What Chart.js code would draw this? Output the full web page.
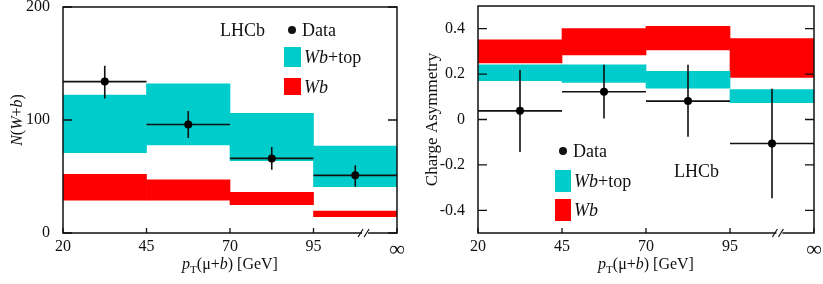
<!DOCTYPE html>
<html>
<head>
<meta charset="utf-8">
<script src="https://cdn.jsdelivr.net/npm/chart.js@4"></script>
<style>
body{margin:0;background:#fff;}
#wrap{display:flex;width:823px;height:284px;}
canvas{display:block;}
</style>
</head>
<body>
<div id="wrap">
<canvas id="yieldChart" width="410" height="284"></canvas>
<canvas id="asymChart" width="413" height="284"></canvas>
</div>
<script>
// bins in pT(mu+b): 20-45, 45-70, 70-95, 95-inf (drawn as equal width)
var xLabels = ['20', '45', '70', '95', '\u221e'];
var binLo = [0, 1, 2, 3];
var binHi = [1, 2, 3, 4];
var binMid = [0.5, 1.5, 2.5, 3.5];

// left panel: N(W+b)
var yieldTicks = [0, 100, 200];
var yieldData = [134, 96, 66, 51];
var yieldErrLo = [119, 84, 56, 41];
var yieldErrHi = [148, 108, 76, 60];
var yieldTopLo = [71, 78, 64, 41];
var yieldTopHi = [122, 132, 106, 77];
var yieldWbLo = [29, 29, 25, 14.5];
var yieldWbHi = [52, 47, 36, 19.5];

// right panel: charge asymmetry
var asymTicks = [-0.4, -0.2, 0, 0.2, 0.4];
var asymData = [0.038, 0.122, 0.081, -0.106];
var asymErrLo = [-0.143, 0.004, -0.076, -0.347];
var asymErrHi = [0.218, 0.241, 0.241, 0.135];
var asymTopLo = [0.171, 0.163, 0.138, 0.074];
var asymTopHi = [0.241, 0.241, 0.212, 0.132];
var asymWbLo = [0.249, 0.284, 0.306, 0.185];
var asymWbHi = [0.351, 0.400, 0.410, 0.356];

var CYAN = '#00cccc';
var RED = '#ff0000';
var SERIF = '"Liberation Serif", "DejaVu Serif", serif';

function bands(lo, hi) {
    return binMid.map(function (x, i) { return {x: x, y: [lo[i], hi[i]]}; });
}

// vertical error bars, null breaks the line between bins
function vErr(lo, hi) {
    var out = [];
    binMid.forEach(function (x, i) {
        out.push({x: x, y: lo[i]}, {x: x, y: hi[i]}, {x: x, y: null});
    });
    return out;
}

// horizontal bars span the whole bin
function hErr(vals) {
    var out = [];
    vals.forEach(function (v, i) {
        out.push({x: binLo[i], y: v}, {x: binHi[i], y: v}, {x: binHi[i], y: null});
    });
    return out;
}

function points(vals) {
    return binMid.map(function (x, i) { return {x: x, y: vals[i]}; });
}

// draws a run of text pieces with their own fonts: [text, font, dy]
function richText(ctx, parts, x, y, align) {
    var w = 0;
    parts.forEach(function (p) { ctx.font = p[1]; w += ctx.measureText(p[0]).width; });
    var cx = align === 'center' ? x - w / 2 : x;
    ctx.textAlign = 'left';
    ctx.textBaseline = 'alphabetic';
    parts.forEach(function (p) {
        ctx.font = p[1];
        ctx.fillText(p[0], cx, y + (p[2] || 0));
        cx += ctx.measureText(p[0]).width;
    });
}

function f(size, style) { return (style || '') + ' ' + size + 'px ' + SERIF; }

var xTitle = [['p', f(16, 'italic')], ['T', f(11), 4], ['(\u03bc+', f(16)], ['b', f(16, 'italic')], [') [GeV]', f(16)]];

var deco = {
    id: 'deco',
    afterDraw: function (chart, args, o) {
        var ctx = chart.ctx, a = chart.chartArea, xs = chart.scales.x, ys = chart.scales.y;
        ctx.save();
        ctx.strokeStyle = '#111';
        ctx.fillStyle = '#111';

        // inward ticks
        ctx.lineWidth = 1.3;
        ctx.beginPath();
        ys.ticks.forEach(function (t) {
            var py = ys.getPixelForValue(t.value);
            ctx.moveTo(a.left, py); ctx.lineTo(a.left + 9, py);
            ctx.moveTo(a.right, py); ctx.lineTo(a.right - 9, py);
        });
        xs.ticks.forEach(function (t) {
            var px = xs.getPixelForValue(t.value);
            ctx.moveTo(px, a.bottom); ctx.lineTo(px, a.bottom - 5);
        });
        ctx.stroke();

        // frame
        ctx.lineWidth = 1.5;
        ctx.strokeRect(a.left, a.top, a.right - a.left, a.bottom - a.top);

        // axis break  //
        var bx = xs.getPixelForValue(o.breakAt);
        ctx.fillStyle = '#fff';
        ctx.fillRect(bx - 4, a.bottom - 2, 6, 4);
        ctx.lineWidth = 1.2;
        ctx.beginPath();
        ctx.moveTo(bx - 8, a.bottom + 4); ctx.lineTo(bx - 3, a.bottom - 4);
        ctx.moveTo(bx - 2, a.bottom + 4); ctx.lineTo(bx + 3, a.bottom - 4);
        ctx.stroke();

        // axis titles
        ctx.fillStyle = '#111';
        richText(ctx, xTitle, (a.left + a.right) / 2, o.xTitleY, 'center');
        ctx.save();
        ctx.translate(o.yTitleX, (a.top + a.bottom) / 2);
        ctx.rotate(-Math.PI / 2);
        richText(ctx, o.yTitle, 0, 0, 'center');
        ctx.restore();

        // legend
        var L = o.legend;
        ctx.font = f(18);
        ctx.fillText('LHCb', L.lhcb[0], L.lhcb[1]);
        ctx.beginPath();
        ctx.arc(L.dot[0], L.dot[1], 4, 0, Math.PI * 2);
        ctx.fill();
        ctx.fillText('Data', L.dot[0] + 10, L.dot[1] + 6);
        ctx.fillStyle = CYAN;
        ctx.fillRect(L.top[0], L.top[1], L.top[2], L.top[3]);
        ctx.fillStyle = RED;
        ctx.fillRect(L.wb[0], L.wb[1], L.wb[2], L.wb[3]);
        ctx.fillStyle = '#111';
        var tx = L.top[0] + L.top[2] + 3;
        richText(ctx, [['Wb', f(18, 'italic')], ['+top', f(18)]], tx, L.top[1] + L.top[3] / 2 + 6, 'left');
        richText(ctx, [['Wb', f(18, 'italic')]], tx, L.wb[1] + L.wb[3] / 2 + 6, 'left');
        ctx.restore();
    }
};

function makeChart(id, d) {
    var ctx = document.getElementById(id).getContext('2d');
    return new Chart(ctx, {
        type: 'bar',
        data: {
            datasets: [{
                label: 'Data',
                type: 'line',
                data: points(d.vals),
                showLine: false,
                pointRadius: 4,
                pointBackgroundColor: '#000',
                pointBorderWidth: 0,
                order: 0
            }, {
                label: 'vertical errors',
                type: 'line',
                data: vErr(d.errLo, d.errHi),
                borderColor: '#111',
                borderWidth: 1.6,
                pointRadius: 0,
                spanGaps: false,
                order: 1
            }, {
                label: 'bin widths',
                type: 'line',
                data: hErr(d.vals),
                borderColor: '#111',
                borderWidth: 1.6,
                pointRadius: 0,
                spanGaps: false,
                order: 1
            }, {
                label: 'Wb+top',
                data: bands(d.topLo, d.topHi),
                backgroundColor: CYAN,
                borderWidth: 0,
                grouped: false,
                barPercentage: 1,
                categoryPercentage: 1,
                order: 3
            }, {
                label: 'Wb',
                data: bands(d.wbLo, d.wbHi),
                backgroundColor: RED,
                borderWidth: 0,
                grouped: false,
                barPercentage: 1,
                categoryPercentage: 1,
                order: 3
            }]
        },
        options: {
            responsive: false,
            animation: false,
            layout: {padding: {top: d.padTop, right: d.padRight, left: 0, bottom: 0}},
            plugins: {
                legend: {display: false},
                tooltip: {enabled: false},
                deco: d.deco
            },
            scales: {
                x: {
                    type: 'linear',
                    min: 0,
                    max: 4,
                    offset: false,
                    grid: {display: false, offset: false},
                    border: {display: false},
                    afterBuildTicks: function (s) {
                        s.ticks = xLabels.map(function (l, i) { return {value: i}; });
                    },
                    afterFit: function (s) {
                        s.height = d.xAxisH;
                        s.paddingLeft = 0;
                        s.paddingRight = 0;
                    },
                    ticks: {
                        color: '#111',
                        padding: -4,
                        maxRotation: 0,
                        font: function (c) {
                            return {family: SERIF, size: c.index === 4 ? 22 : 16};
                        },
                        callback: function (v) { return xLabels[v]; }
                    }
                },
                y: {
                    min: d.min,
                    max: d.max,
                    grid: {display: false},
                    border: {display: false},
                    afterBuildTicks: function (s) {
                        s.ticks = d.ticks.map(function (v) { return {value: v}; });
                    },
                    afterFit: function (s) {
                        s.width = d.yAxisW;
                        s.paddingTop = 0;
                        s.paddingBottom = 0;
                    },
                    ticks: {
                        color: '#111',
                        padding: 5,
                        font: {family: SERIF, size: 16},
                        callback: d.fmt
                    }
                }
            }
        },
        plugins: [deco]
    });
}

makeChart('yieldChart', {
    vals: yieldData, errLo: yieldErrLo, errHi: yieldErrHi,
    topLo: yieldTopLo, topHi: yieldTopHi, wbLo: yieldWbLo, wbHi: yieldWbHi,
    min: 0, max: 200, ticks: yieldTicks,
    fmt: function (v) { return String(v); },
    padTop: 7, padRight: 13, yAxisW: 63, xAxisH: 51,
    deco: {
        breakAt: 3.63,
        xTitleY: 269,
        yTitleX: 22,
        yTitle: [['N', f(16, 'italic')], ['(', f(16)], ['W', f(16, 'italic')], ['+', f(16)], ['b', f(16, 'italic')], [')', f(16)]],
        legend: {lhcb: [220, 36], dot: [292, 30], top: [284, 47, 17, 20], wb: [284, 78, 17, 17]}
    }
});

makeChart('asymChart', {
    vals: asymData, errLo: asymErrLo, errHi: asymErrHi,
    topLo: asymTopLo, topHi: asymTopHi, wbLo: asymWbLo, wbHi: asymWbHi,
    min: -0.5, max: 0.5, ticks: asymTicks,
    fmt: function (v) { return v === 0 ? '0' : v.toFixed(1); },
    padTop: 6, padRight: 9, yAxisW: 68, xAxisH: 51,
    deco: {
        breakAt: 3.6,
        xTitleY: 269,
        yTitleX: 27,
        yTitle: [['Charge Asymmetry', f(17)]],
        legend: {lhcb: [264, 177], dot: [153, 151], top: [145, 170, 16, 22], wb: [145, 199, 16, 22]}
    }
});
</script>
</body>
</html>
